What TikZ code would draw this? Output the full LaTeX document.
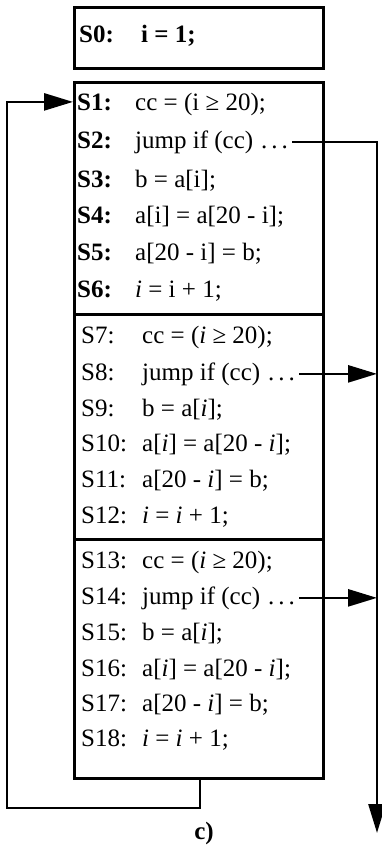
\documentclass[tikz,border=0pt]{standalone}
\usepackage{fontspec}
\setmainfont{Liberation Serif}
\usetikzlibrary{arrows.meta}
\newcommand{\ii}{\textit{i}}
\newcommand{\jmpdots}{jump if (cc)\hspace{8pt}.\hspace{4pt}.\hspace{4pt}.}
\begin{document}
\begin{tikzpicture}[x=1pt,y=-1pt,
  box/.style={draw, line width=2.6pt, anchor=north west, inner sep=0pt},
  lbl/.style={anchor=base west, inner sep=0pt, font=\fontsize{25}{29}\selectfont},
  blbl/.style={lbl, font=\fontsize{25}{29}\selectfont\bfseries},
  code/.style={anchor=base west, inner sep=0pt, font=\fontsize{25}{29}\selectfont},
  wire/.style={line width=2.6pt},
  tip/.style={-{Triangle[length=29pt,width=17pt]}}
]
\useasboundingbox (0,0) rectangle (382,849);
% boxes
\node[box, minimum width=249pt, minimum height=61pt] (b0) at (73,6) {};
\node[box, minimum width=249pt, minimum height=232pt] (b1) at (73,81) {};
\node[box, minimum width=249pt, minimum height=225pt] (b2) at (73,313) {};
\node[box, minimum width=249pt, minimum height=239pt] (b3) at (73,538) {};
% S0
\node[blbl] (l0) at (79,42) {S0:};
\node[code, font=\fontsize{25}{29}\selectfont\bfseries] (c0) at (141,42) {i = 1;};
% section 1
\node[blbl] (l1) at (77,110) {S1:};
\node[code] (c1) at (135,110) {cc = (i ≥ 20);};
\node[blbl] (l2) at (77,148) {S2:};
\node[code] (c2) at (135,148) {\jmpdots};
\node[blbl] (l3) at (77,187) {S3:};
\node[code] (c3) at (135,187) {b = a[i];};
\node[blbl] (l4) at (77,223) {S4:};
\node[code] (c4) at (135,223) {a[i] = a[20 - i];};
\node[blbl] (l5) at (77,260) {S5:};
\node[code] (c5) at (135,260) {a[20 - i] = b;};
\node[blbl] (l6) at (77,297) {S6:};
\node[code] (c6) at (135,297) {\ii{} = i + 1;};
% section 2
\node[lbl] (l7) at (81,343) {S7:};
\node[code] (c7) at (142,343) {cc = (\ii{} ≥ 20);};
\node[lbl] (l8) at (81,380) {S8:};
\node[code] (c8) at (142,380) {\jmpdots};
\node[lbl] (l9) at (81,416) {S9:};
\node[code] (c9) at (142,416) {b = a[\ii];};
\node[lbl] (l10) at (81,451) {S10:};
\node[code] (c10) at (142,451) {a[\ii] = a[20 - \ii];};
\node[lbl] (l11) at (81,487) {S11:};
\node[code] (c11) at (142,487) {a[20 - \ii] = b;};
\node[lbl] (l12) at (81,523) {S12:};
\node[code] (c12) at (142,523) {\ii{} = \ii{} + 1;};
% section 3
\node[lbl] (l13) at (81,568) {S13:};
\node[code] (c13) at (142,568) {cc = (\ii{} ≥ 20);};
\node[lbl] (l14) at (81,604) {S14:};
\node[code] (c14) at (142,604) {\jmpdots};
\node[lbl] (l15) at (81,640) {S15:};
\node[code] (c15) at (142,640) {b = a[\ii];};
\node[lbl] (l16) at (81,676) {S16:};
\node[code] (c16) at (142,676) {a[\ii] = a[20 - \ii];};
\node[lbl] (l17) at (81,711) {S17:};
\node[code] (c17) at (142,711) {a[20 - \ii] = b;};
\node[lbl] (l18) at (81,746) {S18:};
\node[code] (c18) at (142,746) {\ii{} = \ii{} + 1;};
% caption
\node[font=\fontsize{25}{29}\selectfont\bfseries] (cap) at (204,833) {c)};
% connectors
\coordinate (rbot) at (377,833);
\coordinate (fb) at (200,808);
\coordinate (fl) at (7,808);
\draw[wire,tip] ([xshift=4pt]c2.east) -| (rbot);
\draw[wire,tip] ([xshift=4pt]c8.east) -- (c8.east -| rbot);
\draw[wire,tip] ([xshift=4pt]c14.east) -- (c14.east -| rbot);
\draw[wire,tip] (b3.south -| fb) |- (fl) |- (l1.west -| b1.west);
\end{tikzpicture}
\end{document}
